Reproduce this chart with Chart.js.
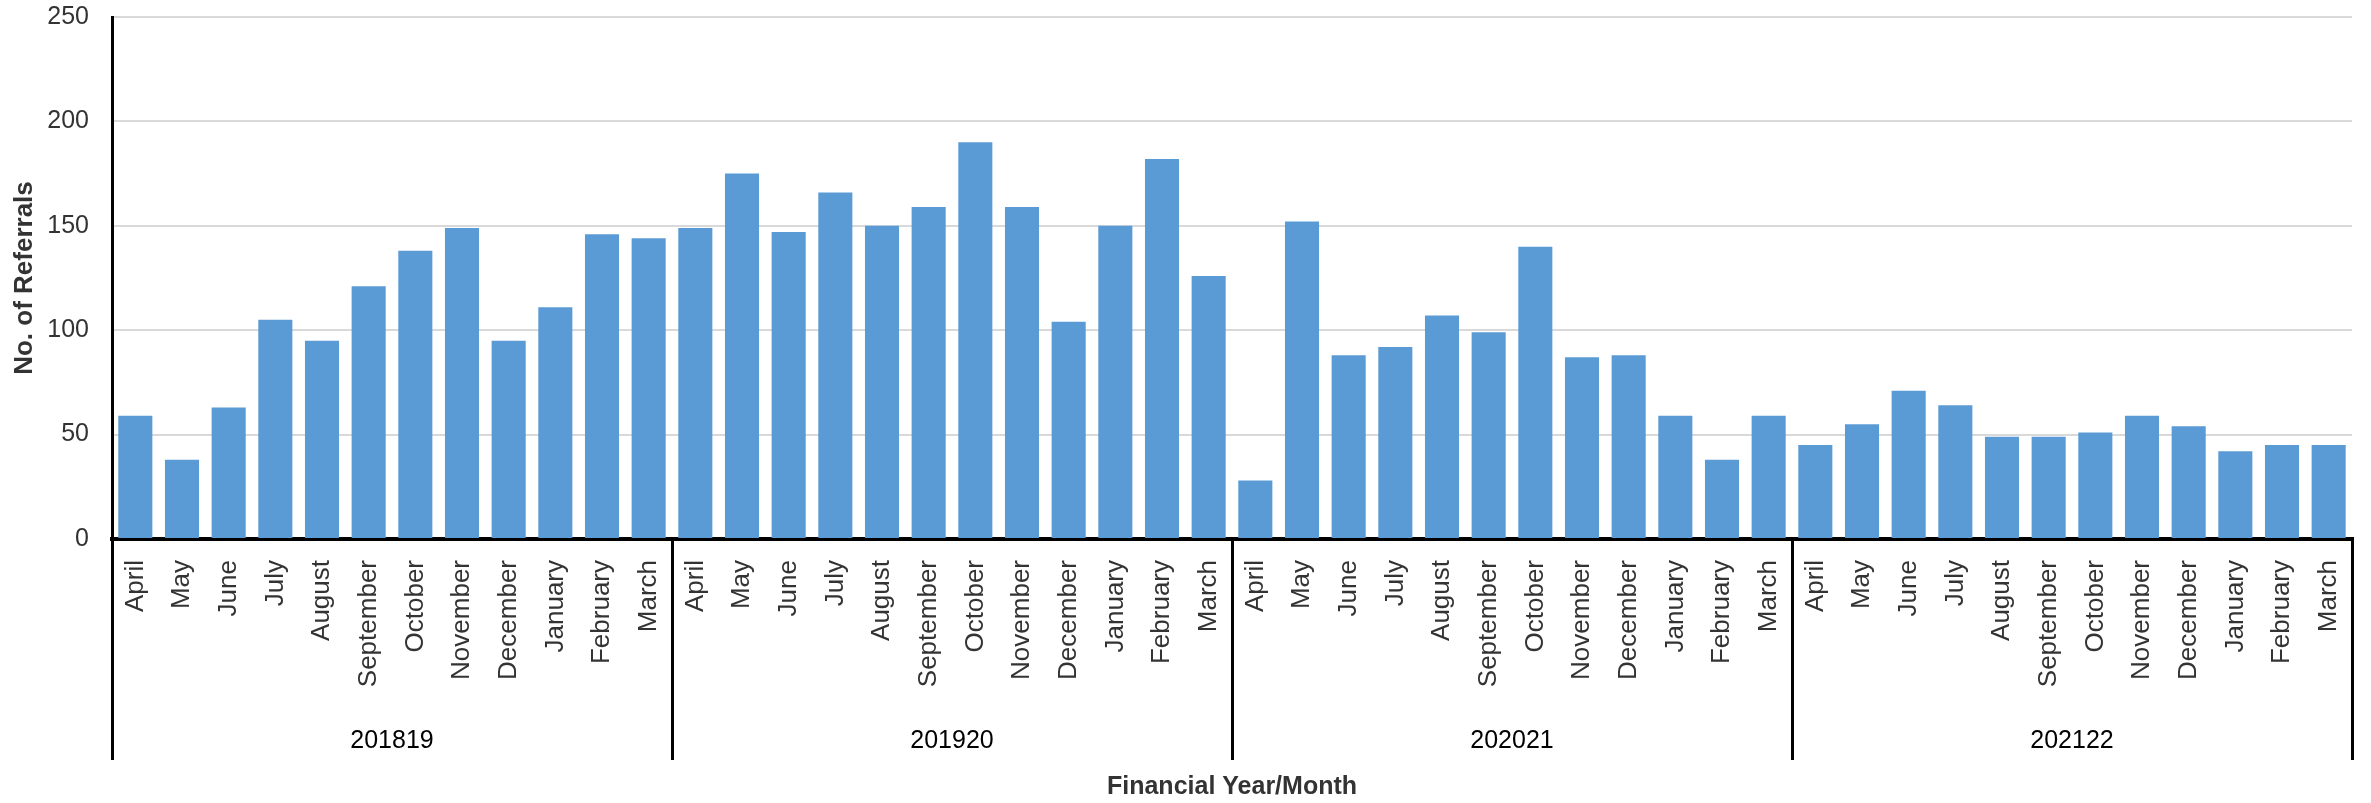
<!DOCTYPE html>
<html>
<head>
<meta charset="utf-8">
<title>Referrals by month</title>
<script src="https://cdn.jsdelivr.net/npm/chart.js@4.4.1/dist/chart.umd.min.js"></script>
<style>
  html, body { margin: 0; padding: 0; background: #fff; }
  #wrap { width: 2371px; height: 803px; position: relative; }
</style>
</head>
<body>
<div id="wrap"><canvas id="referralChart"></canvas></div>
<script>
const months = ['April', 'May', 'June', 'July', 'August', 'September', 'October',
  'November', 'December', 'January', 'February', 'March'];
const years = ['201819', '201920', '202021', '202122'];

const fy1819 = [59, 38, 63, 105, 95, 121, 138, 149, 95, 111, 146, 144];
const fy1920 = [149, 175, 147, 166, 150, 159, 190, 159, 104, 150, 182, 126];
const fy2021 = [28, 152, 88, 92, 107, 99, 140, 87, 88, 59, 38, 59];
const fy2122 = [45, 55, 71, 64, 49, 49, 51, 59, 54, 42, 45, 45];

const yTicks = [0, 50, 100, 150, 200, 250];

// one label per bar, years repeat the month list
const labels = years.flatMap(() => months);
const referrals = [...fy1819, ...fy1920, ...fy2021, ...fy2122];
// centre of each block of 12 bars, in category index units
const yearCentres = years.map((y, i) => i * months.length + (months.length - 1) / 2);

const FONT = "'Liberation Sans', Arial, sans-serif";

new Chart(document.getElementById('referralChart'), {
  type: 'bar',
  data: {
    labels: labels,
    datasets: [{
      label: 'No. of Referrals',
      data: referrals,
      backgroundColor: '#5b9bd5',
      categoryPercentage: 1,
      barPercentage: 0.73,
      xAxisID: 'x'
    }]
  },
  options: {
    responsive: true,
    maintainAspectRatio: false,
    animation: false,
    layout: { padding: { top: 0, right: 19, bottom: 0, left: 0 } },
    plugins: {
      legend: { display: false },
      tooltip: { enabled: false }
    },
    scales: {
      y: {
        min: 0,
        max: 250,
        afterBuildTicks: axis => { axis.ticks = yTicks.map(v => ({ value: v })); },
        afterFit: axis => {
          axis.width = 112;
          axis.paddingTop = 17;
          axis.paddingBottom = 0;
        },
        ticks: { padding: 23, color: '#333', font: { family: FONT, size: 25 } },
        grid: { color: '#d9d9d9', lineWidth: 2, drawTicks: false },
        border: { color: '#000', width: 3 },
        title: {
          display: true,
          text: 'No. of Referrals',
          color: '#333',
          font: { family: FONT, size: 26, weight: 'bold' },
          padding: { top: 9, bottom: 0 }
        }
      },
      x: {
        position: 'bottom',
        weight: 0,
        afterFit: axis => { axis.height = 160; },
        ticks: {
          autoSkip: false,
          minRotation: 90,
          maxRotation: 90,
          padding: -200,
          color: '#333',
          font: { family: FONT, size: 26 }
        },
        grid: {
          drawOnChartArea: false,
          offset: true,
          tickLength: 221,
          lineWidth: 3,
          color: ctx => (ctx.index === undefined || ctx.index % 12 === 0) ? '#000' : 'rgba(0,0,0,0)'
        },
        border: { color: '#000', width: 4 }
      },
      x2: {
        type: 'linear',
        position: 'bottom',
        weight: 1,
        offset: false,
        bounds: 'data',
        min: -0.5,
        max: labels.length - 0.5,
        afterBuildTicks: axis => { axis.ticks = yearCentres.map(v => ({ value: v })); },
        afterFit: axis => { axis.height = 104; },
        ticks: {
          autoSkip: false,
          maxRotation: 0,
          padding: 27,
          color: '#000',
          font: { family: FONT, size: 25 },
          callback: (value, index) => years[index]
        },
        grid: { display: false, drawTicks: false, offset: false },
        border: { display: false },
        title: {
          display: true,
          text: 'Financial Year/Month',
          color: '#333',
          font: { family: FONT, size: 25, weight: 'bold' },
          padding: { top: 0, bottom: 1 }
        }
      }
    }
  }
});
</script>
</body>
</html>
